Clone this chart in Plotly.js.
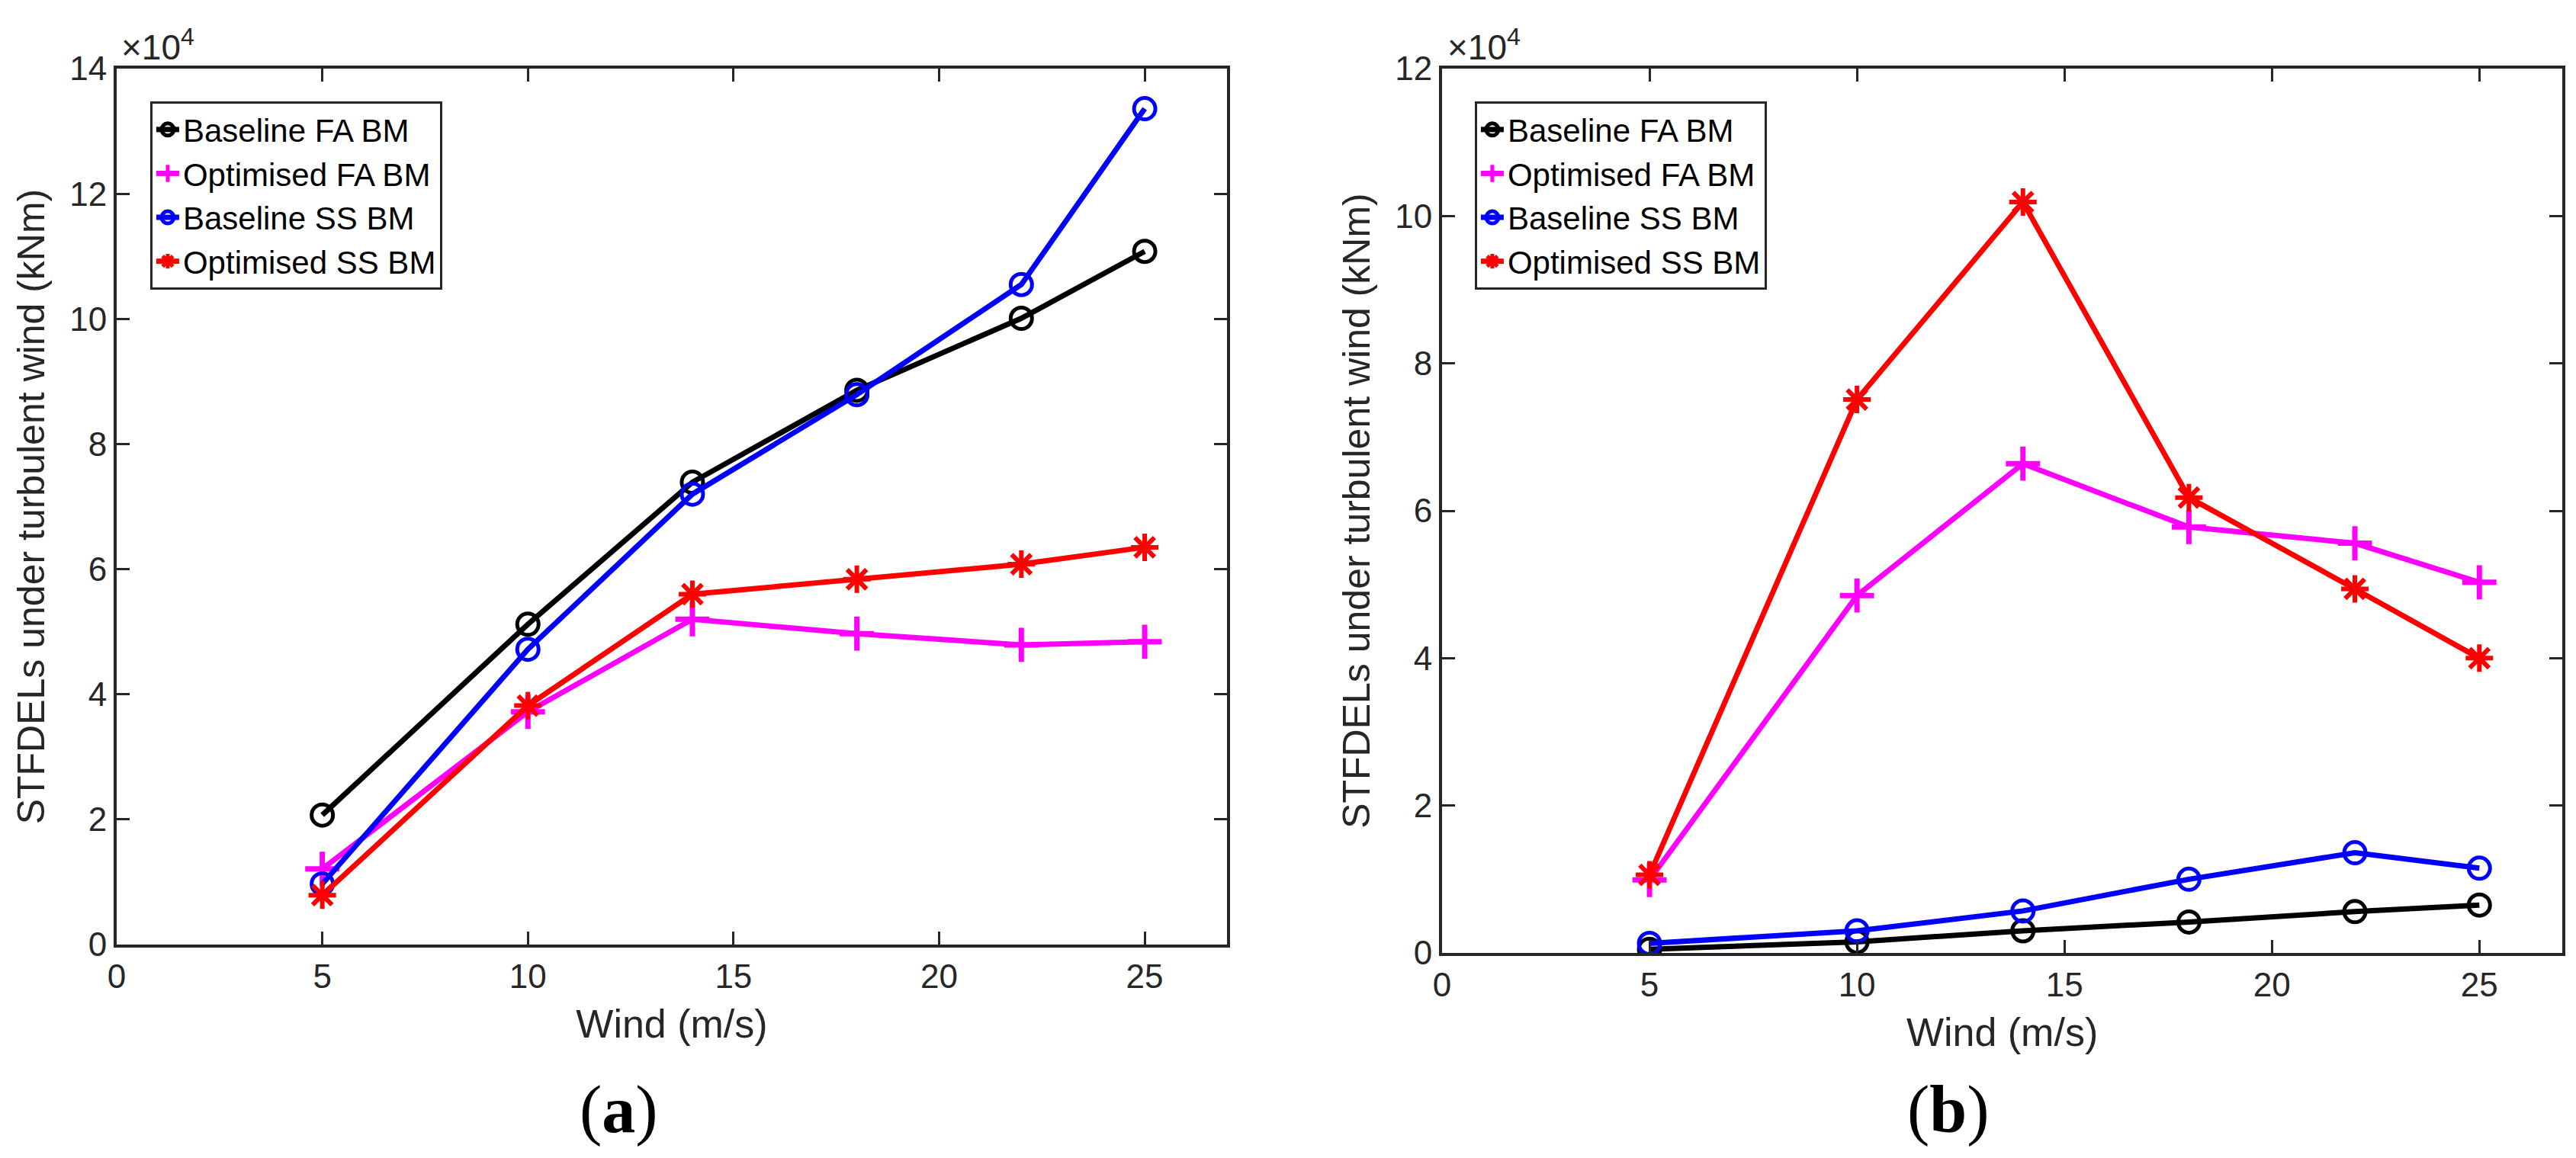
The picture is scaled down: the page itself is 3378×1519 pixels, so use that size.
<!DOCTYPE html>
<html>
<head>
<meta charset="utf-8">
<script src="https://cdn.plot.ly/plotly-3.0.1.min.js"></script>
<style>
  html, body { margin: 0; padding: 0; background: #ffffff; }
  #chart { width: 3378px; height: 1519px; }
</style>
</head>
<body>
<div id="chart"></div>
<script>
// wind speeds shared by both panels (m/s)
const windSpeed = [5, 10, 14, 18, 22, 25];

// panel (a) STFDELs (kNm)
const aBaseFA = [20700, 51200, 73900, 88600, 100100, 110800];
const aOptFA = [12100, 37200, 52000, 49700, 47900, 48400];
const aBaseSS = [9700, 47200, 72000, 87900, 105500, 133600];
const aOptSS = [7900, 38200, 56000, 58400, 60800, 63500];

// panel (b) STFDELs (kNm)
const bBaseFA = [500, 1500, 3000, 4200, 5600, 6500];
const bOptFA = [9900, 48500, 66400, 57800, 55600, 50300];
const bBaseSS = [1300, 3000, 5700, 10000, 13600, 11500];
const bOptSS = [10600, 75100, 101900, 61800, 49400, 40000];

const seriesNames = ["Baseline FA BM", "Optimised FA BM", "Baseline SS BM", "Optimised SS BM"];
const xTicks = [0, 5, 10, 15, 20, 25];
const aYTicks = [0, 20000, 40000, 60000, 80000, 100000, 120000, 140000];
const bYTicks = [0, 20000, 40000, 60000, 80000, 100000, 120000];
const yScale = 1e4;

const axisCol = "#262626";
const sans = "Liberation Sans, Arial, sans-serif";
const serif = "Liberation Serif, Times New Roman, serif";

const styles = [
  { color: "#000000", symbol: "circle-open", size: 28, lw: 5 },
  { color: "#ff00ff", symbol: "cross-thin-open", size: 32, lw: 7 },
  { color: "#0000ff", symbol: "circle-open", size: 28, lw: 5 },
  { color: "#ff0000", symbol: "asterisk-open", size: 30, lw: 6 },
];

function makeTraces(data, xa, ya, legendId) {
  return data.map((ys, i) => ({
    type: "scatter",
    mode: "lines+markers",
    x: windSpeed,
    y: ys,
    xaxis: xa,
    yaxis: ya,
    name: seriesNames[i],
    legend: legendId,
    legendgroup: legendId + i,
    line: { color: styles[i].color, width: 7 },
    marker: {
      symbol: styles[i].symbol,
      size: styles[i].size,
      color: styles[i].color,
      line: { color: styles[i].color, width: styles[i].lw },
    },
    hoverinfo: "x+y+name",
  }));
}

const traces = [
  ...makeTraces([aBaseFA, aOptFA, aBaseSS, aOptSS], "x", "y", "legend"),
  ...makeTraces([bBaseFA, bOptFA, bBaseSS, bOptSS], "x2", "y2", "legend2"),
];

function xAxis(domain, anchor) {
  return {
    domain: domain,
    anchor: anchor,
    range: [0, 27],
    tickvals: xTicks,
    ticktext: xTicks.map(String),
    ticks: "inside",
    ticklen: 17,
    tickwidth: 3,
    tickcolor: axisCol,
    showline: true,
    linecolor: axisCol,
    linewidth: 4,
    mirror: "ticks",
    showgrid: false,
    zeroline: false,
    tickfont: { family: sans, size: 44, color: axisCol },
    title: { text: "Wind (m/s)", font: { family: sans, size: 52, color: axisCol }, standoff: 22 },
  };
}

function yAxis(domain, anchor, maxVal, ticks) {
  return {
    domain: domain,
    anchor: anchor,
    range: [0, maxVal],
    tickvals: ticks,
    ticktext: ticks.map((v) => String(v / yScale)),
    ticks: "inside",
    ticklen: 17,
    tickwidth: 3,
    tickcolor: axisCol,
    showline: true,
    linecolor: axisCol,
    linewidth: 4,
    mirror: "ticks",
    showgrid: false,
    zeroline: false,
    tickfont: { family: sans, size: 44, color: axisCol },
    title: {
      text: "STFDELs under turbulent wind (kNm)",
      font: { family: sans, size: 50, color: axisCol },
      standoff: 18,
    },
  };
}

function legendBox(x) {
  return {
    x: x,
    y: 0.9124,
    xanchor: "left",
    yanchor: "top",
    bgcolor: "#ffffff",
    bordercolor: axisCol,
    borderwidth: 3,
    font: { family: sans, size: 42, color: "#000000" },
    tracegroupgap: 0,
    traceorder: "normal",
  };
}

const layout = {
  width: 3378,
  height: 1519,
  margin: { l: 0, r: 0, t: 0, b: 0 },
  paper_bgcolor: "#ffffff",
  plot_bgcolor: "#ffffff",
  showlegend: true,
  xaxis: xAxis([0.0453, 0.4763], "y"),
  yaxis: yAxis([0.1843, 0.9407], "x", 140000, aYTicks),
  xaxis2: xAxis([0.5598, 0.9947], "y2"),
  yaxis2: yAxis([0.1771, 0.9407], "x2", 120000, bYTicks),
  legend: legendBox(0.0583),
  legend2: legendBox(0.5725),
  annotations: [
    {
      text: "×10<sup>4</sup>", xref: "paper", yref: "paper",
      x: 0.0465, y: 0.9407, xanchor: "left", yanchor: "bottom",
      showarrow: false, font: { family: sans, size: 46, color: axisCol },
    },
    {
      text: "×10<sup>4</sup>", xref: "paper", yref: "paper",
      x: 0.5613, y: 0.9407, xanchor: "left", yanchor: "bottom",
      showarrow: false, font: { family: sans, size: 46, color: axisCol },
    },
    {
      text: "(<b>a</b>)", xref: "paper", yref: "paper",
      x: 0.2401, y: 0.042, xanchor: "center", yanchor: "middle",
      showarrow: false, font: { family: serif, size: 88, color: "#000000" },
    },
    {
      text: "(<b>b</b>)", xref: "paper", yref: "paper",
      x: 0.7564, y: 0.042, xanchor: "center", yanchor: "middle",
      showarrow: false, font: { family: serif, size: 88, color: "#000000" },
    },
  ],
};

Plotly.newPlot("chart", traces, layout, { displayModeBar: false, staticPlot: true });
</script>
</body>
</html>
